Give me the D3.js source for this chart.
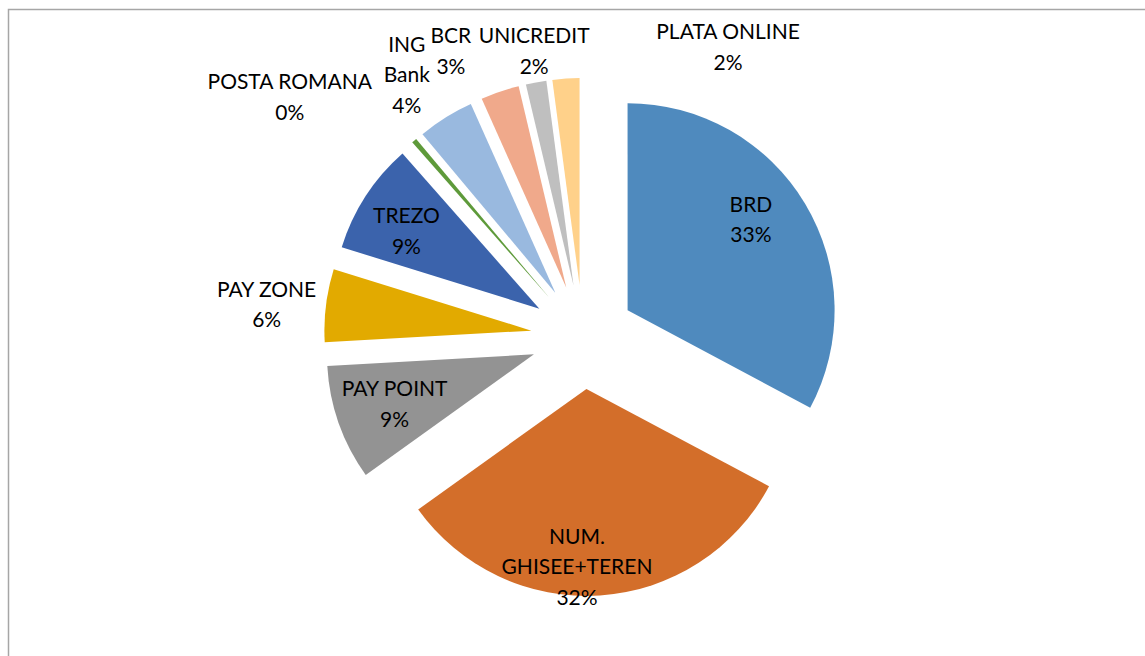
<!DOCTYPE html>
<html>
<head>
<meta charset="utf-8">
<script src="https://cdn.jsdelivr.net/npm/d3@7"></script>
<style>
  html, body { margin: 0; padding: 0; background: #fff; }
  svg { display: block; }
</style>
</head>
<body>
<div id="chart"></div>
<script>
// --- data ---
const categories = ["BRD", "NUM. GHISEE+TEREN", "PAY POINT", "PAY ZONE", "TREZO",
  "POSTA ROMANA", "ING Bank", "BCR", "UNICREDIT", "PLATA ONLINE"];
const shares = [32.8, 32.3, 9.0, 5.7, 8.7, 0.4, 4.4, 3.0, 1.6, 2.1];
const labelLines = [["BRD"], ["NUM.", "GHISEE+TEREN"], ["PAY POINT"], ["PAY ZONE"], ["TREZO"],
  ["POSTA ROMANA"], ["ING", "Bank"], ["BCR"], ["UNICREDIT"], ["PLATA ONLINE"]];

// --- style / layout ---
const colors = ["#4f8abe", "#d36e2a", "#939393", "#e2aa00", "#3b63ac",
  "#5e9a3a", "#99b9df", "#f0a98b", "#bfbfbf", "#ffd18a"];
// label anchor in polar form around the pie centre: [angle deg, radius px]
const labelPolar = [[55, 205], [181.5, 230], [250.4, 200], [275.8, 318], [301, 206],
  [309.3, 379], [326.1, 316], [335.2, 315], [350.3, 290], [26.6, 324]];

const width = 1145, height = 656;
const cx = 583, cy = 337;
const radius = 207;
const explode = 52;
const lineH = 30.5;

const svg = d3.select("#chart").append("svg")
  .attr("width", width)
  .attr("height", height);

// chart area frame (right/bottom edges run off the picture)
svg.append("rect")
  .attr("x", 8.5).attr("y", 9.5)
  .attr("width", width + 20).attr("height", height + 20)
  .attr("fill", "none")
  .attr("stroke", "#a6a6a6")
  .attr("stroke-width", 1.5);

const total = d3.sum(shares);
const pie = d3.pie().sort(null).value(d => d)(shares);
const arc = d3.arc().innerRadius(0).outerRadius(radius);

const g = svg.append("g").attr("transform", `translate(${cx},${cy})`);

// slices, each pulled out along its bisector
g.selectAll("path.slice")
  .data(pie)
  .join("path")
  .attr("class", "slice")
  .attr("d", arc)
  .attr("fill", (d, i) => colors[i])
  .attr("transform", d => {
    const mid = (d.startAngle + d.endAngle) / 2;
    return `translate(${explode * Math.sin(mid)},${-explode * Math.cos(mid)})`;
  });

// data labels: name + percentage
const labels = g.selectAll("text.lbl")
  .data(pie)
  .join("text")
  .attr("class", "lbl")
  .attr("text-anchor", "middle")
  .style("font-family", "Lato, 'Open Sans', sans-serif")
  .style("font-size", "21px")
  .style("fill", "#000")
  .each(function(d, i) {
    const a = labelPolar[i][0] * Math.PI / 180;
    const r = labelPolar[i][1];
    const x = r * Math.sin(a), y = -r * Math.cos(a);
    const lines = labelLines[i].concat([Math.round(d.value / total * 100) + "%"]);
    const top = y - (lines.length - 1) * lineH / 2;
    const t = d3.select(this);
    lines.forEach((s, k) => {
      t.append("tspan")
        .attr("x", x)
        .attr("y", top + k * lineH)
        .attr("dy", "0.35em")
        .text(s);
    });
  });
</script>
</body>
</html>
